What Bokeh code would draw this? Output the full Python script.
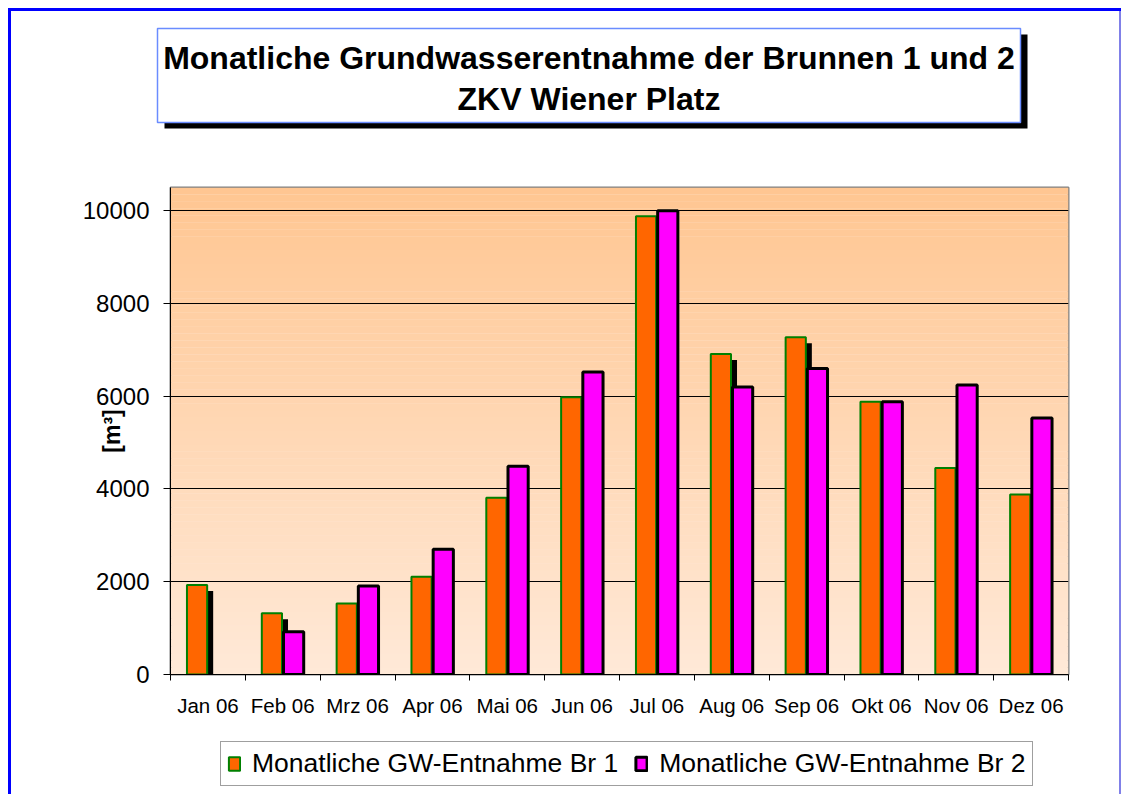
import numpy as np
from bokeh.plotting import figure
from bokeh.layouts import column
from bokeh.models import (FixedTicker, LinearAxis, Range1d, Legend,
                          LegendItem, ColumnDataSource)
from bokeh.core.properties import value
from bokeh.embed import file_html
from bokeh.resources import INLINE

# ---------------- data ----------------
months = ["Jan 06", "Feb 06", "Mrz 06", "Apr 06", "Mai 06", "Jun 06",
          "Jul 06", "Aug 06", "Sep 06", "Okt 06", "Nov 06", "Dez 06"]
br1 = [1930, 1320, 1530, 2110, 3810, 5980, 9880, 6910, 7270, 5880, 4450, 3880]
br2 = [None, 920, 1910, 2700, 4490, 6520, 10000, 6200, 6600, 5880, 6240, 5530]
y_ticks = [0, 2000, 4000, 6000, 8000, 10000]
series_names = ["Monatliche GW-Entnahme Br 1", "Monatliche GW-Entnahme Br 2"]
title_lines = ["Monatliche Grundwasserentnahme der Brunnen 1 und 2",
               "ZKV Wiener Platz"]
y_label = "[m³]"

FONT = "Liberation Sans"
Y_MAX = 10500
W = 1124
HEAD_H = 185
ML, MR, MT, MB = 170, 56, 2, 50
FRAME_H = 487
MAIN_H = MT + FRAME_H + MB
FOOT_H = 794 - HEAD_H - MAIN_H
frame_w = W - ML - MR

ORANGE, GREEN, MAGENTA = "#FF6600", "#008000", "#FF00FF"


def bare(fig):
    fig.grid.visible = False
    fig.frame_align = False
    return fig


# ---------------- header (title box) ----------------
head = bare(figure(width=W, height=HEAD_H, x_range=Range1d(0, W),
                   y_range=Range1d(HEAD_H, 0), output_backend="svg",
                   toolbar_location=None, min_border=0, x_axis_type=None,
                   y_axis_type=None, outline_line_color=None,
                   background_fill_color=None, border_fill_color=None))
box_l, box_r, box_t, box_b = 157, 1020, 28, 122
head.quad(left=box_l + 7, right=box_r + 7, top=box_t + 6, bottom=box_b + 6,
          fill_color="black", line_color=None)
head.quad(left=box_l, right=box_r, top=box_t, bottom=box_b,
          fill_color="white", line_color="#6A8CFF", line_width=1.5)
head.text(x=[(box_l + box_r) / 2] * 2, y=[57, 98], text=title_lines,
          text_align="center", text_baseline="middle",
          text_font=value(FONT), text_font_style="bold", text_font_size="32px",
          text_color="black")

# ---------------- main chart ----------------
n = len(months)
centers = np.arange(n) + 0.5
b1 = np.array(br1, dtype=float)
b2 = np.array([np.nan if v is None else v for v in br2], dtype=float)

dx = 5 * n / frame_w          # shadow offset, px -> data
dy = 6 * Y_MAX / FRAME_H

p = figure(width=W, height=MAIN_H, x_range=Range1d(0, n), y_range=Range1d(0, Y_MAX),
           output_backend="svg", toolbar_location=None,
           min_border_left=ML, min_border_right=MR,
           min_border_top=MT, min_border_bottom=MB,
           border_fill_color=None, background_fill_color="#FFE8D6",
           outline_line_color="#808080", outline_line_width=2)
p.frame_align = False

# gradient background of plot area (decoration)
N = 70
edges = np.linspace(0, Y_MAX, N + 1)
bot_c = np.array([255, 233, 215])
top_c = np.array([255, 198, 146])
cols = []
for i in range(N):
    t = (i + 0.5) / N
    c = (bot_c * (1 - t) + top_c * t).round().astype(int)
    cols.append("#%02X%02X%02X" % tuple(c))
p.quad(left=0, right=n, bottom=edges[:-1], top=edges[1:] + 1, fill_color=cols,
       line_color=None, level="image")

src = ColumnDataSource(dict(x1=centers - 0.145, x2=centers + 0.145,
                            xs=centers - 0.145 + dx, b1=b1, b2=b2,
                            s_top=b1 - dy, s_bot=np.full(n, -2 * dy)))

p.vbar(x="xs", top="s_top", bottom="s_bot", width=0.297, source=src,
       fill_color="black", line_color=None)
p.vbar(x="x1", top="b1", bottom=0, width=0.27, source=src,
       fill_color=ORANGE, line_color=GREEN, line_width=2)
p.vbar(x="x2", top="b2", bottom=0, width=0.27, source=src,
       fill_color=MAGENTA, line_color="black", line_width=3)

# grid
p.xgrid.visible = False
p.ygrid.ticker = FixedTicker(ticks=y_ticks)
p.ygrid.grid_line_color = "black"
p.ygrid.grid_line_width = 1

# y axis
p.yaxis.ticker = FixedTicker(ticks=y_ticks)
p.yaxis.major_label_text_font = FONT
p.yaxis.major_label_text_font_size = "24px"
p.yaxis.major_label_text_color = "black"
p.yaxis.major_tick_out = 7
p.yaxis.major_tick_in = 0
p.yaxis.minor_tick_line_color = None
p.yaxis.major_label_standoff = 14
p.yaxis.axis_line_color = "black"
p.yaxis.axis_label = y_label
p.yaxis.axis_label_text_font = FONT
p.yaxis.axis_label_text_font_style = "bold"
p.yaxis.axis_label_text_font_size = "23px"
p.yaxis.axis_label_text_color = "black"
p.yaxis.axis_label_standoff = -45

# x axis: tick marks at category boundaries
p.xaxis.ticker = FixedTicker(ticks=list(range(n + 1)))
p.xaxis.major_label_overrides = {i: "" for i in range(n + 1)}
p.xaxis.major_label_text_font_size = "1px"
p.xaxis.major_label_standoff = 0
p.xaxis.major_tick_out = 6
p.xaxis.major_tick_in = 0
p.xaxis.minor_tick_line_color = None
p.xaxis.axis_line_color = "black"

# x axis: category labels at centres
lab_axis = LinearAxis(ticker=FixedTicker(ticks=list(centers)),
                      major_label_overrides={float(c): m for c, m in zip(centers, months)},
                      axis_line_color=None, major_tick_line_color=None,
                      minor_tick_line_color=None, major_tick_out=0, major_tick_in=0,
                      major_label_standoff=13,
                      major_label_text_font=FONT,
                      major_label_text_font_size="20.5px",
                      major_label_text_color="black")
p.add_layout(lab_axis, "below")

# ---------------- footer (legend) ----------------
foot = bare(figure(width=W, height=FOOT_H, x_range=Range1d(0, 1), y_range=Range1d(0, 1),
                   output_backend="svg", toolbar_location=None, min_border=0,
                   x_axis_type=None, y_axis_type=None, outline_line_color=None,
                   background_fill_color=None, border_fill_color=None))
g1 = foot.vbar(x="x", top="top", width=0.1,
               source=ColumnDataSource(dict(x=[np.nan], top=[np.nan])),
               fill_color=ORANGE, line_color=GREEN, line_width=2)
g2 = foot.vbar(x="x", top="top", width=0.1,
               source=ColumnDataSource(dict(x=[np.nan], top=[np.nan])),
               fill_color=MAGENTA, line_color="black", line_width=3)
legend = Legend(items=[LegendItem(label=series_names[0], renderers=[g1]),
                       LegendItem(label=series_names[1], renderers=[g2])],
                orientation="horizontal", location=(220, FOOT_H - 62),
                label_text_font=FONT, label_text_font_size="26.5px",
                label_text_color="black", label_height=24,
                glyph_width=14, glyph_height=17, label_standoff=11, spacing=16,
                padding=6, margin=0, border_line_color="#404040",
                border_line_width=1, background_fill_color="white",
                background_fill_alpha=1)
foot.add_layout(legend)

layout = column(head, p, foot, spacing=0, styles={
    "background-color": "white",
    "background-image": ("linear-gradient(#0000FF,#0000FF), "
                         "linear-gradient(#0000FF,#0000FF), "
                         "linear-gradient(#8080E8,#8080E8)"),
    "background-size": "3px 900px, 1113px 3px, 2px 900px",
    "background-position": "8px 8px, 8px 8px, 1119px 8px",
    "background-repeat": "no-repeat",
})

open("out.html", "w").write(file_html(layout, INLINE))
